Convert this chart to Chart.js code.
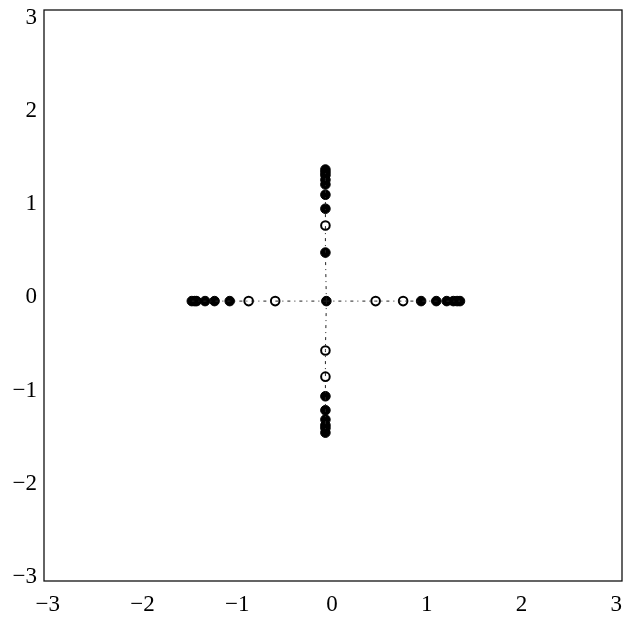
<!DOCTYPE html>
<html><head><meta charset="utf-8">
<script src="https://cdn.jsdelivr.net/npm/chart.js@4"></script>
<style>html,body{margin:0;padding:0;background:#fff;overflow:hidden}#wrap{width:625px;height:619px}canvas{display:block}</style>
</head><body><div id="wrap"><canvas id="c" width="625" height="619"></canvas></div>
<script>
// tick labels
const tickValues = [-3, -2, -1, 0, 1, 2, 3];
// centre point of the cross
const centerPoint = { x: -0.06, y: -0.04 };
// horizontal arm (y fixed), vertical arm (x fixed)
const hArmY = -0.04;
const vArmX = -0.07;
const leftFilledX = [-1.48, -1.45, -1.43, -1.34, -1.24, -1.08];
const leftOpenX = [-0.88, -0.60];
const rightFilledX = [0.94, 1.10, 1.21, 1.28, 1.32, 1.35];
const rightOpenX = [0.46, 0.75];
const topFilledY = [1.37, 1.34, 1.31, 1.26, 1.21, 1.10, 0.95, 0.48];
const topOpenY = [0.77];
const bottomFilledY = [-1.06, -1.21, -1.31, -1.37, -1.40, -1.45];
const bottomOpenY = [-0.57, -0.85];

const hPts = xs => xs.map(x => ({ x, y: hArmY }));
const vPts = ys => ys.map(y => ({ x: vArmX, y }));

const lineStyle = { showLine: true, pointRadius: 0, borderColor: '#222', borderWidth: 1, borderDash: [3, 4, 1, 4], fill: false };
const allLeft = [centerPoint, ...hPts([...leftOpenX, ...leftFilledX].sort((a,b)=>b-a))];
const allRight = [centerPoint, ...hPts([...rightOpenX, ...rightFilledX].sort((a,b)=>a-b))];
const allTop = [centerPoint, ...vPts([...topOpenY, ...topFilledY].sort((a,b)=>a-b))];
const allBottom = [centerPoint, ...vPts([...bottomOpenY, ...bottomFilledY].sort((a,b)=>b-a))];

const frame = {
  id: 'frame',
  afterDraw(chart) {
    const a = chart.chartArea, ctx = chart.ctx;
    ctx.save();
    ctx.strokeStyle = '#111';
    ctx.lineWidth = 1.3;
    ctx.strokeRect(a.left, a.top, a.right - a.left, a.bottom - a.top);
    ctx.restore();
  }
};
const noPad = s => { s.paddingLeft = 0; s.paddingRight = 0; s.paddingTop = 0; s.paddingBottom = 0; };

new Chart(document.getElementById('c'), {
  type: 'scatter',
  data: {
    datasets: [
      { ...lineStyle, data: allLeft },
      { ...lineStyle, data: allRight },
      { ...lineStyle, data: allTop },
      { ...lineStyle, data: allBottom },
      { data: [centerPoint, ...hPts(leftFilledX), ...hPts(rightFilledX), ...vPts(topFilledY), ...vPts(bottomFilledY)],
        pointRadius: 4.8, backgroundColor: '#000', borderColor: '#000', borderWidth: 1 },
      { data: [...hPts(leftOpenX), ...hPts(rightOpenX), ...vPts(topOpenY), ...vPts(bottomOpenY)],
        pointRadius: 4.3, backgroundColor: '#fff', borderColor: '#000', borderWidth: 2 }
    ]
  },
  options: {
    responsive: false,
    animation: false,
    devicePixelRatio: 1,
    layout: { autoPadding: false, padding: { top: 10, right: 3, left: 0, bottom: 0 } },
    plugins: { legend: { display: false }, tooltip: { enabled: false } },
    scales: {
      x: {
        type: 'linear', min: -3.04, max: 3.06,
        afterBuildTicks: s => { s.ticks = tickValues.map(v => ({ value: v })); },
        afterFit: s => { s.height = 38; noPad(s); },
        grid: { display: false, drawTicks: false },
        border: { display: false },
        ticks: { color: '#000', padding: 10, font: { family: 'Liberation Serif', size: 23 },
          callback: v => (v < 0 ? '\u2212' + Math.abs(v) : String(v)), maxRotation: 0 }
      },
      y: {
        type: 'linear', min: -3.04, max: 3.08,
        afterBuildTicks: s => { s.ticks = tickValues.map(v => ({ value: v })); },
        afterFit: s => { s.width = 44; noPad(s); },
        grid: { display: false, drawTicks: false },
        border: { display: false },
        ticks: { color: '#000', padding: 7, font: { family: 'Liberation Serif', size: 23 },
          callback: v => (v < 0 ? '\u2212' + Math.abs(v) : String(v)) }
      }
    }
  },
  plugins: [frame]
});
</script></body></html>
